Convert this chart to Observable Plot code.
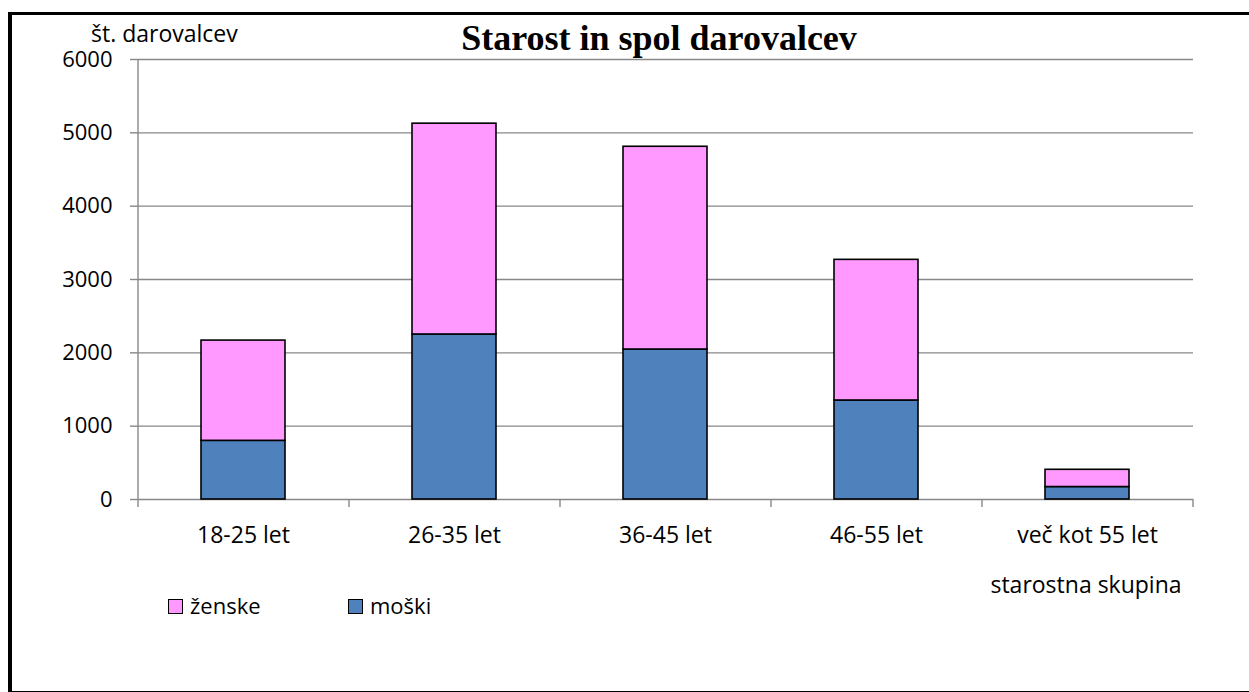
<!DOCTYPE html>
<html>
<head>
<meta charset="utf-8">
<script src="https://cdn.jsdelivr.net/npm/d3@7"></script>
<script src="https://cdn.jsdelivr.net/npm/@observablehq/plot@0.6"></script>
<style>
  html, body { margin: 0; padding: 0; background: #fff; overflow: hidden; }
  #wrap { position: relative; width: 1249px; height: 692px; font-family: "Open Sans", sans-serif; color: #000; }
  #border { position: absolute; left: 8px; top: 12px; width: 1300px; height: 676px; border-left: 4px solid #000; border-top: 3px solid #000; border-bottom: 2px solid #000; }
  #chart { position: absolute; left: 0; top: 0; }
  .title { position: absolute; left: 0; width: 1318px; top: 18px; text-align: center; font-family: "Liberation Serif", serif; font-weight: bold; font-size: 36px; line-height: 40px; white-space: nowrap; }
  .ylab { position: absolute; left: 91px; top: 20px; font-size: 23px; line-height: 26px; white-space: nowrap; }
  .xlab { position: absolute; left: 936px; width: 300px; text-align: center; top: 571px; font-size: 23px; line-height: 26px; white-space: nowrap; }
  .sq { position: absolute; width: 13px; height: 13px; border: 1.5px solid #000; }
  .lt { position: absolute; font-size: 22px; line-height: 26px; white-space: nowrap; }
</style>
</head>
<body>
<div id="wrap">
  <div id="border"></div>
  <div id="chart"></div>
  <div class="title">Starost in spol darovalcev</div>
  <div class="ylab">št. darovalcev</div>
  <div class="xlab">starostna skupina</div>
  <div id="legend"></div>
</div>
<script>
const categories = ["18-25 let", "26-35 let", "36-45 let", "46-55 let", "več kot 55 let"];
const moski = [800, 2250, 2045, 1350, 170];
const zenske = [1367, 2875, 2765, 1918, 235];
const seriesNames = ["ženske", "moški"];
const seriesColors = ["#FF99FF", "#4F81BD"];
const yTicks = [0, 1000, 2000, 3000, 4000, 5000, 6000];

const W = 1249, H = 692, ML = 138, MR = 56, MT = 59, MB = 193;
const step = (W - ML - MR) / categories.length;
const innerH = H - MT - MB;
const gray = "#888888";

const data = [];
categories.forEach((c, i) => {
  data.push({cat: c, sex: "moški", value: moski[i]});
  data.push({cat: c, sex: "ženske", value: zenske[i]});
});

const chart = Plot.plot({
  width: W, height: H,
  marginLeft: ML, marginRight: MR, marginTop: MT, marginBottom: MB,
  style: {fontFamily: "'Open Sans', sans-serif", color: "#000", background: "transparent", overflow: "visible"},
  x: {domain: categories, paddingInner: 0.6, paddingOuter: 0.3, label: null},
  y: {domain: [0, 6000], label: null},
  color: {domain: seriesNames, range: seriesColors},
  marks: [
    Plot.gridY(yTicks, {stroke: gray, strokeOpacity: 1, strokeWidth: 1.4}),
    Plot.ruleX([categories[0]], {x: d => d, dx: -step / 2, stroke: gray, strokeWidth: 1.4}),
    Plot.ruleX(categories, {x: d => d, dx: -step / 2, insetTop: innerH, insetBottom: -8, stroke: gray, strokeWidth: 1.4}),
    Plot.ruleX([categories[categories.length - 1]], {x: d => d, dx: step / 2, insetTop: innerH, insetBottom: -8, stroke: gray, strokeWidth: 1.4}),
    Plot.barY(data, {x: "cat", y: "value", fill: "sex", stroke: "#000", strokeWidth: 1.6}),
    Plot.axisY({ticks: yTicks, tickSize: 8, tickPadding: 18, fontSize: 22, stroke: gray, strokeWidth: 1.4, tickFormat: d => String(d), label: null}),
    Plot.axisX({tickSize: 0, tickPadding: 27, fontSize: 23, label: null})
  ]
});
document.getElementById("chart").appendChild(chart);

const legend = document.getElementById("legend");
const legendX = [168, 348];
seriesNames.forEach((name, i) => {
  const sq = document.createElement("div");
  sq.className = "sq";
  sq.style.left = legendX[i] + "px";
  sq.style.top = "599px";
  sq.style.background = seriesColors[i];
  legend.appendChild(sq);
  const t = document.createElement("div");
  t.className = "lt";
  t.style.left = (legendX[i] + 22) + "px";
  t.style.top = "592px";
  t.textContent = name;
  legend.appendChild(t);
});
</script>
</body>
</html>
